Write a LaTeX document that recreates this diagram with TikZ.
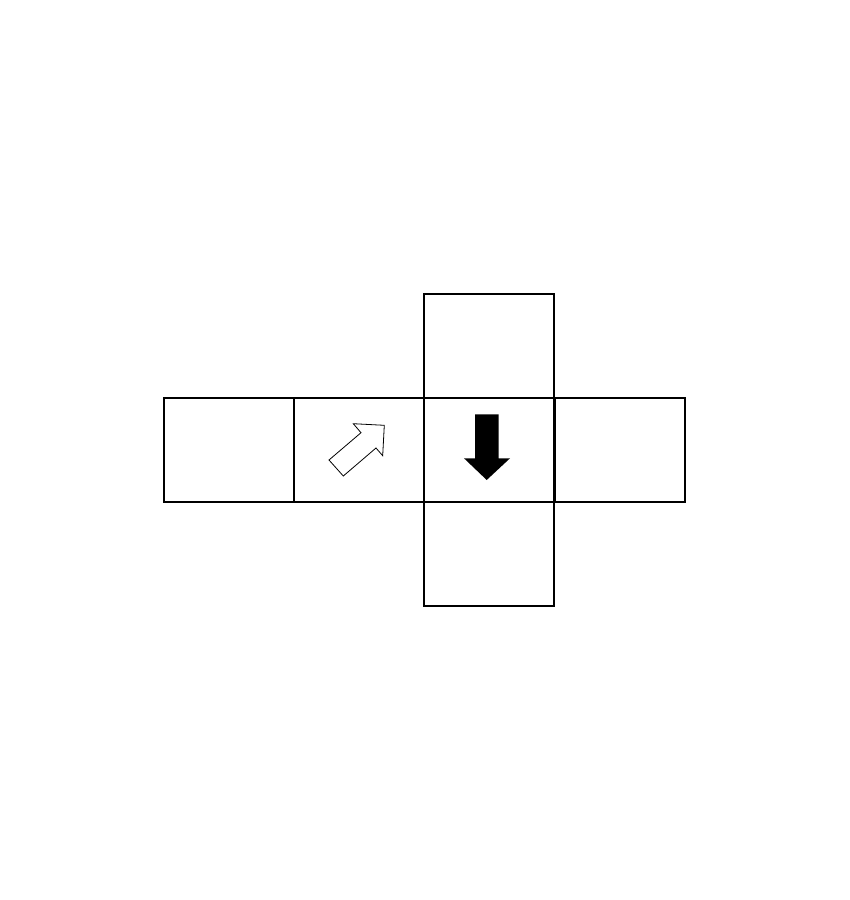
\documentclass[tikz,border=0pt]{standalone}
\begin{document}
\begin{tikzpicture}[x=1pt,y=-1pt,
  face/.style={draw=black,line width=2pt,rectangle,minimum width=130pt,minimum height=104pt,inner sep=0pt,outer sep=0pt},
  hollow/.style={draw=black,fill=white,line width=0.8pt,line join=miter},
  solid/.style={fill=black}]
\useasboundingbox (0,0) rectangle (850,900);
\fill[white] (0,0) rectangle (850,900);
\node[face] (top) at (488.5,346) {};
\node[face] (left) at (228.5,450) {};
\node[face] (midleft) at (358.5,450) {};
\node[face] (center) at (488.5,450) {};
\node[face] (right) at (619.5,450) {};
\node[face] (bottom) at (489,554) {};
% hollow arrow pointing up-right
\draw[hollow] (329,460) -- (343.3,476) -- (376,448) -- (382.7,455.7) -- (384.3,425.3) -- (353.3,423.7) -- (361,432.7) -- cycle;
% solid black arrow pointing down
\fill[solid] (475,414.3) -- (498.7,414.3) -- (498.7,458.3) -- (510,458.3) -- (486.7,480) -- (464,458.3) -- (475,458.3) -- cycle;
\end{tikzpicture}
\end{document}
